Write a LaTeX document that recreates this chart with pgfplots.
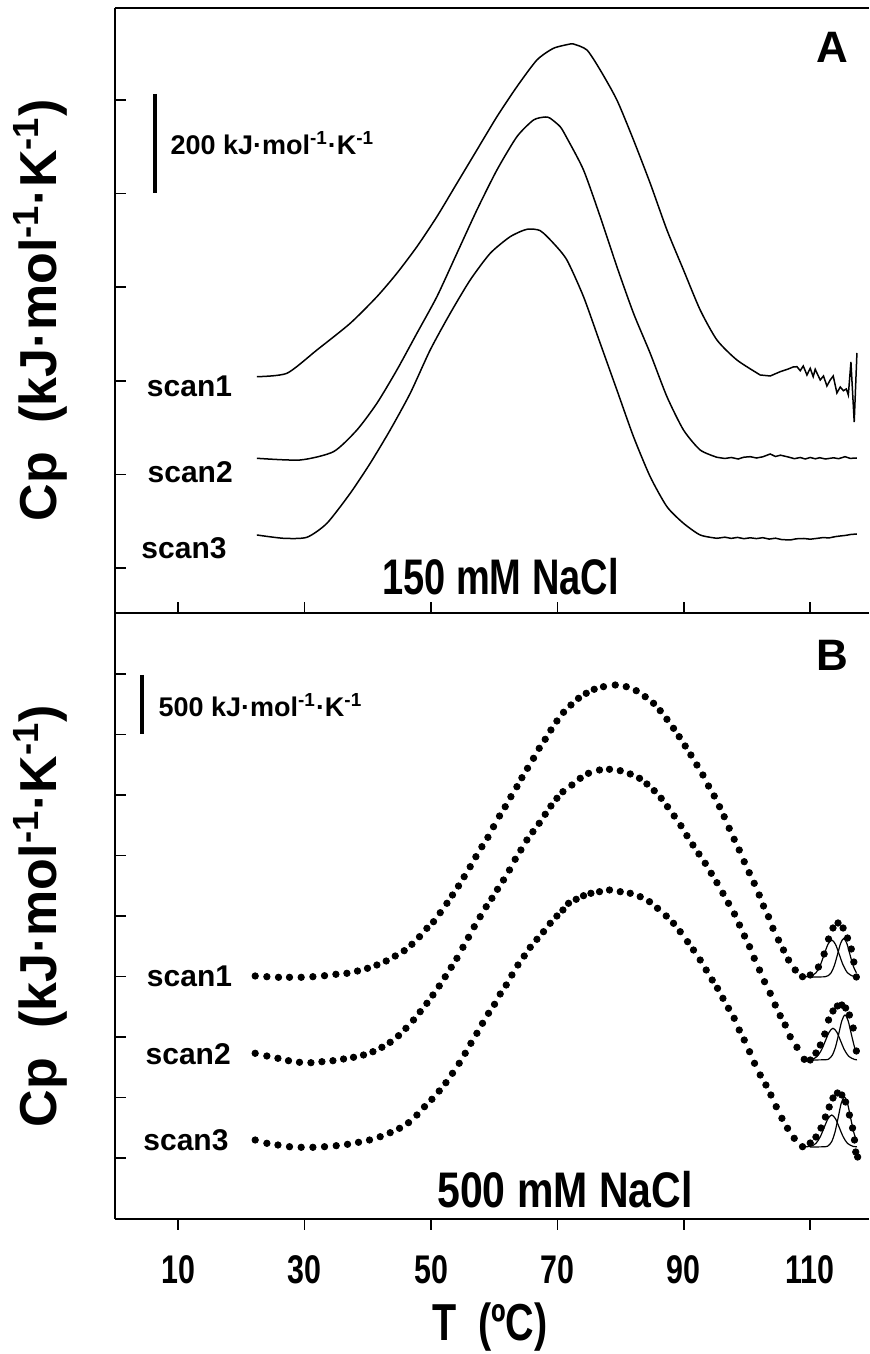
\documentclass[border=0pt]{standalone}
\usepackage{pgfplots}
\pgfplotsset{compat=1.18}
\usepackage{fontspec}
\setmainfont{Liberation Sans}
\usepackage{graphicx}
\newcommand{\cond}[1]{\scalebox{0.76}[1]{#1}}
\newcommand{\unit}{kJ·mol\textsuperscript{-1}·K\textsuperscript{-1}}
\pgfplotsset{
  panel/.style={
    scale only axis, width=377pt, xmin=0, xmax=119.3,
    axis x line=box, axis y line*=left,
    axis line style={line width=1pt, black},
    xtick={10,30,50,70,90,110}, xtick pos=bottom,
    yticklabels={},
    major tick length=5.5pt, tick style={line width=0.8pt, black},
    ylabel={Cp\ \ (\unit)},
    ylabel style={at={(axis description cs:-0.0995,0.5)}, anchor=center, font=\bfseries\fontsize{26}{26}\selectfont},
  },
  curve/.style={black, line width=0.75pt},
  dots/.style={black, only marks, mark=*, mark size=1.6pt},
  comp/.style={black, line width=0.6pt, smooth},
}
\begin{document}
\begin{tikzpicture}
%================ Panel A =================
\begin{axis}[panel, name=A, at={(0,303pt)}, anchor=south west, height=302.5pt,
  ymin=0, ymax=605, xticklabels={}, tick align=inside,
  ytick={45,138.6,232.2,325.8,419.4,513}]
\addplot[curve, smooth, tension=0.4] coordinates {
(22.45,236.3)(27.20,239.7)(31.95,263)(37.22,289.7)(41.44,316.3)(44.60,339.7)(47.77,366.3)(50.93,396.3)(54.10,429.7)(57.26,463)(60.43,496.3)(63.59,526.3)(66.76,553)(69.38,564.7)(72.03,569)(72.55,569)(74.67,563)(76.77,543)(79.41,513)(82.04,473)(84.68,429.7)(87.33,383)(89.95,343)(92.59,303)(95.24,273)(98.40,253)(102.09,238)};
\addplot[curve] coordinates {
(102.09,238)(103.67,237)(105.25,241.3)(106.52,244)(107.3,246)(107.9,246.3)(108.42,242.3)(108.9,247)(109.48,238)(110.0,244.7)(110.47,236.3)(110.79,243.7)(111.58,233)(112.10,237)(112.64,227)(113.16,233)(113.64,237)(114.22,220)(114.75,226)(115.25,222.3)(115.71,224)(116.03,218)(116.44,251)(116.96,191)(117.39,260)};
\addplot[curve, smooth, tension=0.4] coordinates {
(22.45,154.7)(29.30,153)(34.57,161.3)(38.28,183)(41.44,209.7)(44.60,243)(47.77,279.7)(50.93,316.3)(54.10,359.7)(57.26,403)(60.43,443)(63.59,476.3)(66.22,493)(68.07,496)(68.86,494.7)(70.44,486.3)(71.50,475)(74.13,443)(76.77,396.3)(79.41,346.3)(82.04,299.7)(84.68,259.7)(87.33,216.3)(89.95,183)(92.59,163)(95.24,155.7)};
\addplot[curve] coordinates {
(95.24,155.7)(96.5,154.5)(97.5,155.5)(98.6,154)(99.5,155.8)(100.51,156.3)(101.5,155)(102.5,156.2)(103.67,159)(104.5,156.5)(105.3,157.8)(106.52,156)(107.5,154.3)(108.42,155.5)(109.2,154)(110.0,155.5)(110.8,154.2)(111.5,155.3)(112.4,154)(113.69,155.2)(114.5,154.3)(115.5,156.3)(116.3,154.6)(117.39,155)};
\addplot[curve, smooth, tension=0.4] coordinates {
(22.45,78)(26.66,74.7)(30.36,75.7)(33.53,89.7)(37.22,119.7)(40.38,149.7)(43.54,183)(46.71,219.7)(49.87,263)(53.04,299.7)(56.20,333)(59.37,359.7)(62.53,376.3)(65.17,383.7)(67.28,382.3)(69.38,369.7)(71.50,353)(74.13,316.3)(76.77,269.7)(79.41,223)(82.04,176.3)(84.68,136.3)(87.33,106.3)(89.95,89.7)(92.59,78)(95.24,74.7)};
\addplot[curve] coordinates {
(95.24,74.7)(96.5,75.8)(97.5,74.6)(98.5,75.6)(99.5,74.3)(100.51,75.2)(101.5,74.4)(102.5,75.3)(103.5,73.9)(104.5,74.8)(105.5,73.4)(106.83,73)(107.8,74.2)(109.0,74.5)(110.0,73.8)(111.06,74.6)(112.0,75.4)(113.0,75.1)(114.0,76.4)(114.75,77)(115.6,77.6)(116.4,78.5)(117.39,79)};
% scale bar
\draw[line width=1.8pt] (axis cs:6.36,519) -- (axis cs:6.36,420);
\node[anchor=west, font=\bfseries\fontsize{13.5}{14}\selectfont, inner sep=0pt] at (axis cs:8.73,470) {200 \unit};
\node[font=\bfseries\fontsize{22}{22}\selectfont] at (axis cs:113.46,566) {A};
\node[font=\bfseries\fontsize{15}{15}\selectfont] at (axis cs:11.79,226.3) {scan1};
\node[font=\bfseries\fontsize{15}{15}\selectfont] at (axis cs:11.9,141.3) {scan2};
\node[font=\bfseries\fontsize{15}{15}\selectfont] at (axis cs:10.92,64.7) {scan3};
\node[font=\bfseries\fontsize{25}{25}\selectfont] at (axis cs:61.0,36) {\cond{150 mM NaCl}};
\end{axis}
%================ Panel B =================
\begin{axis}[panel, name=B, at={(0,0)}, anchor=south west, height=303pt,
  ymin=0, ymax=606, ytick align=inside, xtick align=outside,
  ytick={61,121.5,182,242.5,303,363.5,424,484.5,545},
  xticklabels={\cond{10},\cond{30},\cond{50},\cond{70},\cond{90},\cond{110}},
  xticklabel style={font=\bfseries\fontsize{20}{20}\selectfont, anchor=center, yshift=-20pt},
  xlabel={\cond{T\ \ (ºC)}},
  xlabel style={at={(axis description cs:0.497,-0.178)}, anchor=center, font=\bfseries\fontsize{26}{26}\selectfont}]
% scan1
\addplot[dots] coordinates {
(22.18,243)(24.03,242.3)(25.87,241.7)(27.61,241.7)(29.46,241.7)(31.31,242.3)(33.15,243.3)(34.95,244.7)(36.69,245.7)(38.37,248)(39.95,250.7)(41.44,254)(42.91,258)(44.34,263)(45.76,268.3)(46.98,274.7)(48.18,282.3)(49.35,290.7)(50.40,297.3)(51.46,306.3)(52.52,315.7)(53.40,324)(54.35,333)(55.25,342.3)(56.20,352.3)(57.10,362.3)(58.05,372.3)(59.00,381.7)(59.89,392.3)(60.84,403)(61.74,412.3)(62.64,422.3)(63.59,432.3)(64.38,441.3)(65.27,450.7)(66.22,460.7)(67.12,470.7)(68.07,479.7)(68.97,489)(69.92,498)(70.97,506.7)(72.14,514)(73.34,520.7)(74.56,525.7)(75.82,529.7)(77.29,532.3)(79.15,534)(80.89,532.3)(82.47,528.3)(83.89,522.3)(85.21,515.7)(86.27,508.3)(87.33,499.7)(88.37,490.7)(89.27,482.3)(90.22,473)(91.12,464)(92.07,454)(93.02,444)(93.91,433)(94.81,423)(95.65,412.3)(96.39,402.3)(97.18,390.7)(97.97,379.7)(98.77,369)(99.56,357.3)(100.35,346.3)(101.14,335.7)(101.93,324)(102.61,313)(103.40,302.3)(104.10,290.7)(104.98,279)(105.77,269)(106.57,259)(107.63,249)(108.78,242.3)(110.0,244)(111.3,252)(112.2,265)(112.9,280)(113.6,291)(114.4,296)(115.2,291)(115.9,281)(116.5,270)(116.9,257)(117.3,242)};
\addplot[comp] coordinates {(108.8,242.3)(110.0,242.7)(110.9,246.2)(111.6,254)(112.2,264.4)(112.8,274.6)(113.4,279)(114.0,274.6)(114.6,264.4)(115.2,254)(115.9,246.2)(116.8,242.7)(117.4,242.2)};
\addplot[comp] coordinates {(110.0,242)(112.3,242.2)(112.8,243.2)(113.3,246.2)(113.8,253.1)(114.3,264.1)(114.8,275.5)(115.3,280.5)(115.8,275.5)(116.3,264.1)(116.8,253.1)(117.3,246.2)};
% scan2
\addplot[dots] coordinates {
(22.18,165.7)(24.03,163)(25.78,160.7)(27.45,158.3)(29.19,156.7)(31.00,156.3)(32.74,157.3)(34.48,158.3)(36.16,160)(37.74,161.7)(39.32,164)(40.81,167.3)(42.23,171.7)(43.54,176.7)(44.86,183.3)(46.03,190.7)(47.23,199)(48.29,207.3)(49.35,215.7)(50.30,224)(51.30,233)(52.25,242.3)(53.20,251.7)(54.10,260.7)(55.05,271.7)(55.93,281.7)(56.84,292.3)(57.78,302.3)(58.73,312.3)(59.64,320.7)(60.52,329.7)(61.47,339)(62.42,349)(63.32,359.7)(64.22,369)(65.17,379)(66.12,387.3)(67.12,395.7)(68.07,404.7)(68.97,413)(69.92,420.7)(70.87,427.3)(72.29,434)(73.61,440.7)(74.92,445.7)(76.66,449)(78.24,449.7)(79.94,448.3)(81.52,445)(82.99,440.7)(84.16,435)(85.32,428.3)(86.42,420.7)(87.42,412.3)(88.48,403)(89.54,393.3)(90.49,383.3)(91.44,374)(92.39,365)(93.39,355.7)(94.34,345.7)(95.24,336.3)(96.19,325.7)(97.07,315.7)(98.02,305)(98.81,294)(99.60,283)(100.40,272.3)(101.14,260.7)(101.98,249)(102.77,237.3)(103.67,225.7)(104.46,214)(105.25,203.3)(106.04,194)(106.83,182.3)(107.90,171.7)(109.05,159.7)(110.0,159)(110.9,166)(111.6,174)(112.3,185)(112.9,199)(113.6,208)(114.3,213)(115.0,214)(115.6,211)(116.2,204)(116.8,191)(117.3,168)};
\addplot[comp] coordinates {(108.9,159.2)(110.2,159.6)(111.1,162.6)(111.8,169.3)(112.4,178.2)(113.0,186.9)(113.6,190.7)(114.2,186.9)(114.8,178.2)(115.4,169.3)(116.1,162.6)(117.0,159.6)(117.4,159.3)};
\addplot[comp] coordinates {(110.0,159)(112.5,159.3)(113.0,160.4)(113.5,163.9)(114.0,172)(114.5,184.9)(115.0,198.2)(115.5,204)(116.0,198.2)(116.5,184.9)(117.0,172)(117.4,165)};
% scan3
\addplot[dots] coordinates {
(22.18,79)(24.03,75.7)(25.78,74)(27.61,72.3)(29.46,71.7)(31.31,71.7)(33.15,72.3)(35.00,73.3)(36.79,74.7)(38.53,76.7)(40.27,79)(41.96,82.3)(43.54,86.3)(45.02,90.7)(46.44,96.3)(47.77,104)(48.97,112.3)(50.14,119.7)(51.30,128)(52.36,136.3)(53.40,145.7)(54.46,155.7)(55.41,165.7)(56.31,175.7)(57.26,185.7)(58.15,195.7)(59.10,205.7)(60.05,214.7)(60.95,225)(61.90,234)(62.80,244)(63.75,254)(64.75,263)(65.70,271.7)(66.76,279.7)(67.80,287.3)(68.86,295.7)(69.92,303)(70.87,309)(71.76,315.7)(72.97,319.7)(74.13,323.3)(75.30,325.7)(76.66,327.3)(78.24,329)(79.94,327.3)(81.52,325.7)(83.10,322.3)(84.57,317.3)(85.84,310.7)(87.22,303)(88.37,295.7)(89.43,287.3)(90.59,277.3)(91.53,269)(92.59,259)(93.54,249)(94.49,239)(95.33,230.7)(96.19,220.7)(97.07,210.7)(97.97,200.7)(98.77,189)(99.56,179)(100.40,167.3)(101.19,155.7)(102.09,144)(102.99,134)(103.78,124)(104.62,112.3)(105.52,100.7)(106.41,90.7)(107.47,80.7)(108.78,72.3)(110.0,76)(110.9,82)(111.7,91)(112.4,102)(113.0,112)(113.6,121)(114.3,126)(115.0,124)(115.6,117)(116.2,104)(116.7,91)(117.0,79)(117.2,67)(117.5,62)};
\addplot[comp] coordinates {(108.8,72.3)(110.0,72.6)(110.9,75.6)(111.6,82.4)(112.2,91.4)(112.8,100.2)(113.4,104)(114.0,100.2)(114.6,91.4)(115.2,82.4)(115.9,75.6)(116.8,72.6)(117.4,72.3)};
\addplot[comp] coordinates {(110.0,72)(112.4,72.3)(112.9,73.6)(113.4,77.4)(113.9,86.4)(114.4,100.8)(114.9,115.6)(115.4,122)(115.9,115.6)(116.4,100.8)(116.9,86.4)(117.4,77.4)};
% scale bar
\draw[line width=1.8pt] (axis cs:4.30,544) -- (axis cs:4.30,485);
\node[anchor=west, font=\bfseries\fontsize{13.5}{14}\selectfont, inner sep=0pt] at (axis cs:6.84,514) {500 \unit};
\node[font=\bfseries\fontsize{22}{22}\selectfont] at (axis cs:113.46,564) {B};
\node[font=\bfseries\fontsize{15}{15}\selectfont] at (axis cs:11.79,243) {scan1};
\node[font=\bfseries\fontsize{15}{15}\selectfont] at (axis cs:11.58,164.7) {scan2};
\node[font=\bfseries\fontsize{15}{15}\selectfont] at (axis cs:11.23,79) {scan3};
\node[font=\bfseries\fontsize{25}{25}\selectfont] at (axis cs:71.2,29) {\scalebox{0.82}[1]{500 mM NaCl}};
\end{axis}
\pgfresetboundingbox
\path (-57.5pt,-67.5pt) rectangle (377pt,609.5pt);
\end{tikzpicture}
\end{document}
